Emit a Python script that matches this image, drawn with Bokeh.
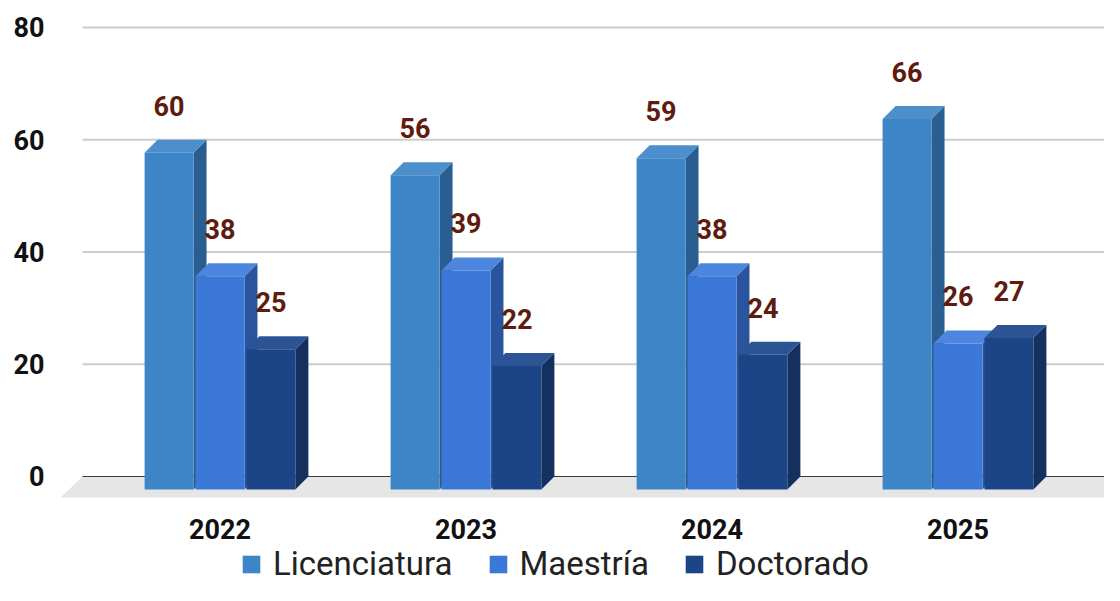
from bokeh.plotting import figure
from bokeh.models import Range1d, FixedTicker, Legend, LegendItem
from bokeh.core.properties import value
from bokeh.embed import file_html
from bokeh.resources import INLINE

# ---- data ----
years = ["2022", "2023", "2024", "2025"]
series = ["Licenciatura", "Maestría", "Doctorado"]
licenciatura = [60, 56, 59, 66]
maestria = [38, 39, 38, 26]
doctorado = [25, 22, 24, 27]
y_ticks = [0, 20, 40, 60, 80]

values_by_series = [licenciatura, maestria, doctorado]

# ---- styles ----
front_colors = ["#3d85c6", "#3c78d8", "#1c4587"]
side_colors = ["#2b5e90", "#2a559e", "#14305e"]
top_colors = ["#4d8fcd", "#4c86de", "#2c5495"]
label_color = "#5e1b0e"

BAR_W = 0.199      # bar width (category units)
STEP = 0.207       # spacing between bars in a group
DX = 0.0528        # 3D depth, x
DY = 2.316         # 3D depth, y (value units)
WALL_LEFT = -0.559
FLOOR_DX = 0.0894
FLOOR_DY = 3.74
YEAR_Y = -9.3

p = figure(width=1104, height=585, output_backend="svg", toolbar_location=None,
           x_range=Range1d(-0.6484, 3.5955), y_range=Range1d(-19.421, 83.385),
           min_border_left=60, min_border_right=0, min_border_top=8,
           min_border_bottom=0)
p.outline_line_color = None
p.xgrid.visible = False
p.ygrid.visible = False
p.xaxis.visible = False
p.background_fill_color = "white"

# floor
p.patch(x=[WALL_LEFT, 3.75, 3.75 - FLOOR_DX, WALL_LEFT - FLOOR_DX],
        y=[0, 0, -FLOOR_DY, -FLOOR_DY], fill_color="#e6e6e6", line_color=None)

# back-wall gridlines
for t in y_ticks:
    if t == 0:
        p.segment(x0=[WALL_LEFT], y0=[t], x1=[3.75], y1=[t],
                  line_color="#3a3a3a", line_width=1)
    else:
        p.segment(x0=[WALL_LEFT], y0=[t], x1=[3.75], y1=[t],
                  line_color="#cccccc", line_width=2)

# bars
legend_renderers = [None, None, None]
for i in range(len(years)):
    for s in range(len(series)):
        v = values_by_series[s][i]
        c = i + (s - 1) * STEP
        l = c - BAR_W / 2
        r = c + BAR_W / 2
        p.patch(x=[r, r + DX, r + DX, r], y=[-DY, 0, v, v - DY],
                fill_color=side_colors[s], line_color=None)
        p.patch(x=[l, r, r + DX, l + DX], y=[v - DY, v - DY, v, v],
                fill_color=top_colors[s], line_color=None)
        fr = p.quad(left=[l], right=[r], bottom=[-DY], top=[v - DY],
                    fill_color=front_colors[s], line_color=None)
        if legend_renderers[s] is None:
            legend_renderers[s] = fr
        p.text(x=[c], y=[v - DY + 8.4], text=[str(v)],
               text_align="center", text_baseline="middle",
               text_font=value("Roboto"), text_font_style="bold",
               text_font_size="27px", text_color=label_color)

# category labels under the floor
p.text(x=list(range(len(years))), y=[YEAR_Y] * len(years), text=years,
       text_align="center", text_baseline="middle",
       text_font=value("Roboto"), text_font_style="bold",
       text_font_size="27px", text_color="#111111")

# y axis
p.yaxis.ticker = FixedTicker(ticks=y_ticks)
ax = p.yaxis
ax.axis_line_color = None
ax.major_tick_line_color = None
ax.minor_tick_line_color = None
ax.major_tick_out = 0
ax.major_tick_in = 0
ax.minor_tick_out = 0
ax.minor_tick_in = 0
ax.major_label_text_font = "Roboto"
ax.major_label_text_font_style = "bold"
ax.major_label_text_font_size = "27px"
ax.major_label_text_color = "#111111"
ax.major_label_standoff = 16

legend = Legend(items=[LegendItem(label=series[s], renderers=[legend_renderers[s]])
                       for s in range(len(series))],
                orientation="horizontal", location=(180, 2),
                label_text_font="Roboto", label_text_font_size="33px",
                label_text_color="#222222", glyph_width=22, glyph_height=22,
                label_standoff=11, spacing=34, padding=0, margin=0,
                border_line_color=None, background_fill_alpha=0)
p.add_layout(legend, "center")

open("out.html", "w").write(file_html(p, INLINE))
